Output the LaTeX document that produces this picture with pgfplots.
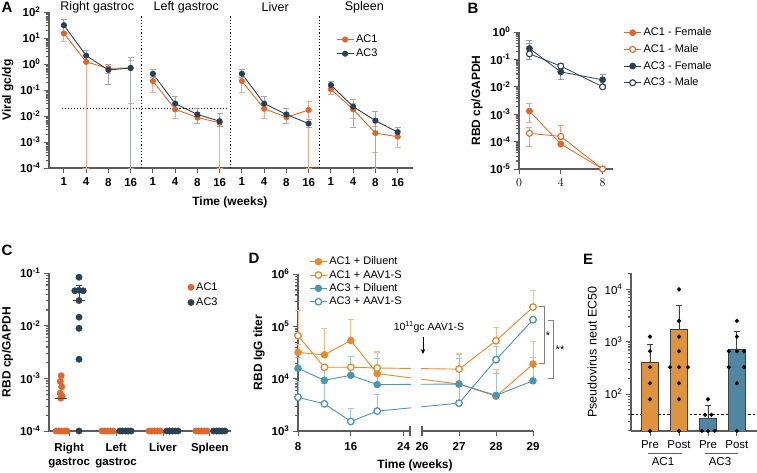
\documentclass[border=0pt]{standalone}
\usepackage{fontspec}
\setmainfont{Liberation Sans}
\usepackage{pgfplots}
\pgfplotsset{compat=1.18}
\usetikzlibrary{arrows.meta}
\definecolor{orA}{HTML}{E2662B}
\definecolor{blA}{HTML}{2A4153}
\definecolor{orD}{HTML}{E8892E}
\definecolor{blD}{HTML}{4E95B4}
\definecolor{orE}{HTML}{E0933F}
\definecolor{blE}{HTML}{4F86A2}
\definecolor{axg}{HTML}{5C5C5C}
\newcommand{\fs}[1]{\fontsize{#1}{#1}\selectfont}
\newcommand{\tn}[1]{10\textsuperscript{#1}}
\pgfplotsset{
  base/.style={scale only axis, anchor=south west,
    axis x line*=bottom, axis y line*=left,
    axis line style={axg, line width=1.1pt, -},
    major tick style={axg, line width=0.9pt},
    tick align=outside, major tick length=5pt,
    tick label style={font=\fs{11.5}\bfseries},
    xticklabel style={yshift=-1.5pt},
    label style={font=\fs{12}\bfseries},
    extra y tick labels={},
    extra y tick style={major tick length=3.2pt, major tick style={axg, line width=0.7pt}},
    legend style={draw=none, fill=none, font=\fs{11}, anchor=north west},
    legend cell align=left},
  ebar/.style={error bars/y dir=both, error bars/y explicit,
    error bars/error bar style={line width=0.9pt, #1},
    error bars/error mark options={rotate=90, mark size=3pt, line width=0.9pt, #1}},
  eup/.style={error bars/y dir=plus, error bars/y explicit,
    error bars/error bar style={line width=0.9pt, #1},
    error bars/error mark options={rotate=90, mark size=3pt, line width=0.9pt, #1}},
  sA/.style={color=#1, line width=0.9pt, mark=*, mark size=2.6pt, mark options={solid, fill=#1}},
  sB/.style={color=#1, line width=0.8pt, mark=*, mark size=3pt, mark options={solid, fill=#1}},
  sBo/.style={color=#1, line width=0.8pt, mark=*, mark size=3pt, mark options={solid, fill=white, line width=1.1pt}},
  sD/.style={color=#1, line width=0.9pt, mark=*, mark size=3.3pt, mark options={solid, fill=#1}},
  sDo/.style={color=#1, line width=0.9pt, mark=*, mark size=3.3pt, mark options={solid, fill=white, line width=1.3pt}},
  table/lohi/.style={x=x, y=y, y error plus expr=\thisrow{hi}-\thisrow{y}, y error minus expr=\thisrow{y}-\thisrow{lo}},
  table/hionly/.style={x=x, y=y, y error plus expr=\thisrow{hi}-\thisrow{y}},
}
\begin{document}
\begin{tikzpicture}[x=1pt,y=1pt]
\useasboundingbox (0,0) rectangle (757,473);

% ================= Panel A =================
\begin{axis}[base, at={(49pt,305pt)}, width=364pt, height=156pt, clip=false,
  ymode=log, ymin=1e-4, ymax=1e2, xmin=-0.67, xmax=15.69,
  ytick={1e-4,1e-3,1e-2,1e-1,1,10,100},
  extra y ticks={2e-4,3e-4,4e-4,5e-4,6e-4,7e-4,8e-4,9e-4,
    2e-3,3e-3,4e-3,5e-3,6e-3,7e-3,8e-3,9e-3,
    0.02,0.03,0.04,0.05,0.06,0.07,0.08,0.09,
    0.2,0.3,0.4,0.5,0.6,0.7,0.8,0.9,
    2,3,4,5,6,7,8,9,20,30,40,50,60,70,80,90},
  yticklabels={\tn{-4},\tn{-3},\tn{-2},\tn{-1},\tn{0},\tn{1},\tn{2}},
  xtick={0,...,15},
  xticklabels={1,4,8,16,1,4,8,16,1,4,8,16,1,4,8,16},
  xlabel={Time (weeks)}, ylabel={Viral gc/dg},
  xlabel style={at={(axis description cs:0.497,-0.218)}, anchor=center},
  ylabel style={at={(axis description cs:-0.113,0.5)}, anchor=center},
  legend style={at={(0.78,0.88)}, row sep=1pt},
]
\draw[black, dotted, line width=1.2pt] (axis cs:3.5,1e-4) -- (axis cs:3.5,70);
\draw[black, dotted, line width=1.2pt] (axis cs:7.5,1e-4) -- (axis cs:7.5,70);
\draw[black, dotted, line width=1.2pt] (axis cs:11.5,1e-4) -- (axis cs:11.5,70);
\draw[black, dotted, line width=1.1pt] (axis cs:-0.1,0.02) -- (axis cs:7.3,0.02);
\node[font=\fs{12.5}] at (axis cs:1.5,150) {Right gastroc};
\node[font=\fs{12.5}] at (axis cs:5.5,150) {Left gastroc};
\node[font=\fs{12.5}] at (axis cs:9.5,150) {Liver};
\node[font=\fs{12.5}] at (axis cs:13.5,150) {Spleen};
% AC1
\addplot[sA=orA, ebar=orA!55] table[lohi] {
x y lo hi
0 15 7.3 27
1 1.2 1e-4 2.2
2 0.68 0.45 1.0
3 0.7 0.031 1.4
};
\addlegendentry{AC1}
\addplot[sA=orA, ebar=orA!55, forget plot] table[lohi] {
x y lo hi
4 0.22 0.08 0.4
5 0.018 0.008 0.03
6 0.0087 0.005 0.013
7 0.0055 1e-4 0.013
};
\addplot[sA=orA, ebar=orA!55, forget plot] table[lohi] {
x y lo hi
8 0.22 0.08 0.4
9 0.019 0.008 0.03
10 0.009 0.005 0.013
11 0.017 1e-4 0.036
};
\addplot[sA=orA, ebar=orA!55, forget plot] table[lohi] {
x y lo hi
12 0.107 0.07 0.15
13 0.018 0.008 0.03
14 0.0022 0.0004 0.004
15 0.0016 0.0006 0.0028
};
% AC3
\addplot[sA=blA, ebar=blA!45] table[lohi] {
x y lo hi
0 31 17 52
1 2.1 1.2 3.2
2 0.59 0.17 1.0
3 0.7 1e-4 1.8
};
\addlegendentry{AC3}
\addplot[sA=blA, ebar=blA!45, forget plot] table[lohi] {
x y lo hi
4 0.42 0.3 0.6
5 0.03 0.02 0.055
6 0.0115 0.005 0.02
7 0.0063 0.004 0.013
};
\addplot[sA=blA, ebar=blA!45, forget plot] table[lohi] {
x y lo hi
8 0.42 0.3 0.6
9 0.03 0.02 0.055
10 0.0115 0.005 0.02
11 0.0051 0.0035 0.0075
};
\addplot[sA=blA, ebar=blA!45, forget plot] table[lohi] {
x y lo hi
12 0.155 0.11 0.21
13 0.023 0.0035 0.042
14 0.0066 1e-4 0.015
15 0.0024 0.0016 0.0035
};
\end{axis}

% ================= Panel B =================
\begin{axis}[base, at={(519pt,304pt)}, width=94pt, height=137pt, clip=false,
  ymode=log, ymin=1e-5, ymax=1, xmin=0, xmax=9,
  ytick={1e-5,1e-4,1e-3,1e-2,1e-1,1},
  extra y ticks={2e-5,3e-5,4e-5,5e-5,6e-5,7e-5,8e-5,9e-5,
    2e-4,3e-4,4e-4,5e-4,6e-4,7e-4,8e-4,9e-4,
    2e-3,3e-3,4e-3,5e-3,6e-3,7e-3,8e-3,9e-3,
    0.02,0.03,0.04,0.05,0.06,0.07,0.08,0.09,
    0.2,0.3,0.4,0.5,0.6,0.7,0.8,0.9},
  yticklabels={\tn{-5},\tn{-4},\tn{-3},\tn{-2},\tn{-1},\tn{0}},
  xtick={0,4,8},
  ylabel={RBD cp/GAPDH},
  ylabel style={at={(axis description cs:-0.447,0.5)}, anchor=center},
  legend style={at={(1.08,1.06)}, row sep=3.2pt},
]
\addplot[sB=orA, ebar=orA!60] table[lohi] {
x y lo hi
1 0.0013 0.0005 0.0025
4 8.1e-5 7e-5 9.5e-5
8 1e-5 1e-5 1e-5
};
\addlegendentry{AC1 - Female}
\addplot[sBo=orA, ebar=orA!60] table[lohi] {
x y lo hi
1 2.0e-4 6.6e-5 3.4e-4
4 1.55e-4 1.2e-4 3.8e-4
8 1e-5 1e-5 1e-5
};
\addlegendentry{AC1 - Male}
\addplot[sB=blA, ebar=blA!50] table[lohi] {
x y lo hi
1 0.25 0.15 0.5
4 0.035 0.018 0.055
8 0.018 0.012 0.028
};
\addlegendentry{AC3 - Female}
\addplot[sBo=blA, ebar=blA!50] table[lohi] {
x y lo hi
1 0.16 0.1 0.38
4 0.057 0.045 0.07
8 0.010 0.009 0.012
};
\addlegendentry{AC3 - Male}
\end{axis}

% ================= Panel C =================
\begin{axis}[base, at={(49pt,42pt)}, width=182pt, height=158pt, clip=false,
  ymode=log, ymin=1e-4, ymax=1e-1, xmin=-0.43, xmax=3.45,
  ytick={1e-4,1e-3,1e-2,1e-1},
  extra y ticks={2e-4,3e-4,4e-4,5e-4,6e-4,7e-4,8e-4,9e-4,
    2e-3,3e-3,4e-3,5e-3,6e-3,7e-3,8e-3,9e-3,
    0.02,0.03,0.04,0.05,0.06,0.07,0.08,0.09},
  yticklabels={\tn{-4},\tn{-3},\tn{-2},\tn{-1}},
  xtick={0,1,2,3},
  xticklabels={Right\\gastroc, Left\\gastroc, Liver, Spleen},
  xticklabel style={align=center, yshift=-2.5pt, font=\fontsize{11.5}{13.5}\selectfont\bfseries},
  ylabel={RBD cp/GAPDH},
  ylabel style={at={(axis description cs:-0.228,0.5)}, anchor=center},
  legend style={at={(0.745,0.965)}, row sep=2pt},
]
\addplot[orA, only marks, mark=*, mark size=3.2pt] coordinates {
(-0.17,1.12e-3) (-0.19,8.7e-4) (-0.16,6.9e-4) (-0.19,5.2e-4) (-0.15,4.6e-4) (-0.18,4.2e-4)
(-0.28,1e-4) (-0.22,1e-4) (-0.16,1e-4) (-0.10,1e-4) (-0.05,1e-4)
(0.70,1e-4) (0.76,1e-4) (0.82,1e-4) (0.88,1e-4) (0.94,1e-4)
(1.70,1e-4) (1.76,1e-4) (1.82,1e-4) (1.88,1e-4) (1.94,1e-4)
(2.70,1e-4) (2.76,1e-4) (2.82,1e-4) (2.88,1e-4) (2.94,1e-4)
};
\addlegendentry{AC1}
\addplot[blA, only marks, mark=*, mark size=3.2pt] coordinates {
(0.21,0.083) (0.12,0.046) (0.21,0.047) (0.30,0.046) (0.21,0.030)
(0.21,0.0145) (0.21,0.0089) (0.21,0.0023) (0.21,1e-4)
(1.08,1e-4) (1.14,1e-4) (1.20,1e-4) (1.26,1e-4) (1.32,1e-4)
(2.08,1e-4) (2.14,1e-4) (2.20,1e-4) (2.26,1e-4) (2.32,1e-4)
(3.08,1e-4) (3.14,1e-4) (3.20,1e-4) (3.26,1e-4) (3.32,1e-4)
};
\addlegendentry{AC3}
\addplot[black!75, only marks, mark=-, mark size=6pt, mark options={line width=1pt}, forget plot] coordinates {(-0.17,4.1e-4)};
\addplot[black!75, only marks, mark=-, mark size=6pt, mark options={line width=1pt}, forget plot,
  eup=black!75] coordinates {(0.21,0.030) +- (0,0.029)};
\end{axis}

% ================= Panel D =================
\begin{axis}[base, at={(298pt,42pt)}, width=235pt, height=157pt, clip=false,
  ymode=log, ymin=1e3, ymax=1e6, xmin=0, xmax=235,
  ytick={1e3,1e4,1e5,1e6},
  extra y ticks={2e3,3e3,4e3,5e3,6e3,7e3,8e3,9e3,
    2e4,3e4,4e4,5e4,6e4,7e4,8e4,9e4,
    2e5,3e5,4e5,5e5,6e5,7e5,8e5,9e5},
  yticklabels={\tn{3},\tn{4},\tn{5},\tn{6}},
  xtick={0,52.8,105.6,124,161,198,235},
  xticklabels={8,16,24,26,27,28,29},
  xticklabel style={yshift=-1.5pt},
  xlabel={Time (weeks)}, ylabel={RBD IgG titer},
  xlabel style={at={(axis description cs:0.498,-0.217)}, anchor=center},
  ylabel style={at={(axis description cs:-0.166,0.5)}, anchor=center},
  legend style={at={(0.035,1.135)}, row sep=0pt},
]
\addplot[sD=orD, eup=orD!55] table[hionly] {
x y hi
0 31700 45000
26.4 28600 93000
52.8 53600 138000
79.2 12500 31000
161 7900 29500
198 4600 14800
235 19000 51000
};
\addlegendentry{AC1 + Diluent}
\addplot[sDo=orD, eup=orD!55] table[hionly] {
x y hi
0 66000 200000
26.4 16500 16500
52.8 16500 27000
79.2 16000 33000
161 15200 30000
198 53000 97000
235 233000 490000
};
\addlegendentry{AC1 + AAV1-S}
\addplot[sD=blD, eup=blD!55] table[hionly] {
x y hi
0 15800 25000
26.4 9300 15000
52.8 11600 27000
79.2 7700 24000
161 7900 24000
198 4800 12800
235 9100 25600
};
\addlegendentry{AC3 + Diluent}
\addplot[sDo=blD, eup=blD!55] table[hionly] {
x y hi
0 4400 8700
26.4 3300 8000
52.8 1520 2750
79.2 2400 4900
161 3400 7500
198 23000 41000
235 134000 134000
};
\addlegendentry{AC3 + AAV1-S}
\end{axis}
% axis break
\fill[white] (411,40) rectangle (421,143);
\draw[axg, line width=1.1pt] (410,37) -- (410,47);
\draw[axg, line width=1.1pt] (422,37) -- (422,47);
\draw[-{Stealth[length=5pt,width=4.5pt]}, line width=1pt] (423,136) -- (423,119);
\node[font=\fs{10.5}] at (429,146) {10\textsuperscript{11}gc AAV1-S};
\draw[gray, line width=0.8pt] (539,167) -- (544,167) -- (544,110) -- (539,110);
\node[font=\fs{11}] at (548,137) {*};
\draw[gray, line width=0.8pt] (548,153) -- (553,153) -- (553,95) -- (548,95);
\node[font=\fs{11}] at (560,123) {**};

% ================= Panel E =================
\begin{axis}[base, at={(631pt,42pt)}, width=132pt, height=158pt,
  ymode=log, log origin y=infty, ymin=19.6, ymax=20590, xmin=-0.655, xmax=3.9,
  ytick={100,1000,10000},
  extra y ticks={20,30,40,50,60,70,80,90,200,300,400,500,600,700,800,900,
    2000,3000,4000,5000,6000,7000,8000,9000,20000},
  yticklabels={\tn{2},\tn{3},\tn{4}},
  tick label style={font=\fs{11.5}},
  label style={font=\fs{12.5}},
  xtick={0,1,2,3}, xticklabels={Pre,Post,Pre,Post},
  ylabel={Pseudovirus neut EC50},
  ylabel style={at={(axis description cs:-0.295,0.5)}, anchor=center},
]
\addplot[black, dash pattern=on 2.5pt off 2pt, line width=0.6pt, forget plot] coordinates {(-0.655,40) (3.9,40)};
\addplot[ybar, bar width=17.7pt, bar shift=0pt, fill=orE, draw=black!75, line width=0.8pt,
  eup=black!75] coordinates {(0,405) +- (0,495) (1,1730) +- (0,3270)};
\addplot[ybar, bar width=17.7pt, bar shift=0pt, fill=blE, draw=black!75, line width=0.8pt,
  eup=black!75] coordinates {(2,34) +- (0,26) (3,725) +- (0,865)};
\addplot[black, only marks, mark=*, mark size=1.9pt] coordinates {
(0,1250) (0,655) (0,324) (0,160) (0,79) (0,19.7)
(1,10000) (1,2500) (1,1250) (1,655) (0.69,324) (1,324) (1.31,324) (1,160) (1,79) (1,19.7)
(2,79) (1.9,40) (2.12,40) (1.79,19.7) (2,19.7) (2.23,19.7)
(3,2500) (3,1250) (2.72,655) (3,655) (3.24,655) (2.72,324) (3.24,324) (3,160) (3,19.7)
};
\end{axis}
\draw[axg, line width=0.9pt] (648,20) -- (682,20);
\node[font=\fs{11.5}] at (663,11) {AC1};
\draw[axg, line width=0.9pt] (705,20) -- (738,20);
\node[font=\fs{11.5}] at (720,11) {AC3};

% panel letters
\node[font=\fs{15}\bfseries] at (7,466) {A};
\node[font=\fs{15}\bfseries] at (473,465) {B};
\node[font=\fs{15}\bfseries] at (7,223) {C};
\node[font=\fs{15}\bfseries] at (254,215) {D};
\node[font=\fs{15}\bfseries] at (588,214) {E};
\end{tikzpicture}
\end{document}
